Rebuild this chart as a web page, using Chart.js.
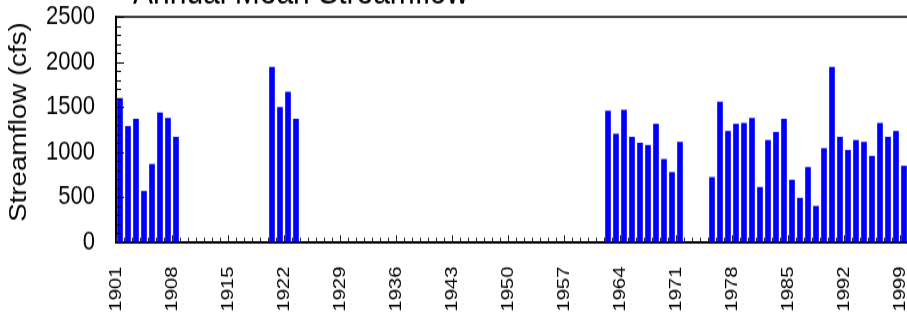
<!DOCTYPE html>
<html>
<head>
<meta charset="utf-8">
<script src="https://cdn.jsdelivr.net/npm/chart.js@4.4.1/dist/chart.umd.min.js"></script>
<style>
html, body { margin: 0; padding: 0; background: #fff; overflow: hidden; }
#frame { width: 907px; height: 313px; overflow: hidden; }
/* the reference is stretched vertically, so draw at 261px high and scale it */
#stretch { width: 920px; height: 261px; transform: scaleY(1.2); transform-origin: 0 0; }
</style>
</head>
<body>
<div id="frame"><div id="stretch"><canvas id="flowChart" width="920" height="261"></canvas></div></div>
<script>
// years on the x axis
const firstYear = 1901;
const lastYear = 1999;
const years = [];
for (let yr = firstYear; yr <= lastYear; yr++) years.push(String(yr));

// annual mean streamflow (cfs), null = no record
const streamflow = [
    1595, 1285, 1365, 565, 865, 1435, 1375, 1165,                 // 1901-1908
    null, null, null, null, null, null, null, null, null, null, null, // 1909-1919
    1940, 1495, 1665, 1365,                                        // 1920-1923
    null, null, null, null, null, null, null, null, null, null,    // 1924-1933
    null, null, null, null, null, null, null, null, null, null,    // 1934-1943
    null, null, null, null, null, null, null, null, null, null,    // 1944-1953
    null, null, null, null, null, null, null, null,                // 1954-1961
    1455, 1200, 1465, 1165, 1100, 1075, 1310, 920, 775, 1110,      // 1962-1971
    null, null, null,                                              // 1972-1974
    720, 1555, 1230, 1310, 1320, 1375, 610, 1130, 1220, 1365,      // 1975-1984
    690, 490, 830, 400, 1040, 1940, 1165, 1020, 1130, 1110,        // 1985-1994
    955, 1320, 1165, 1230, 845                                     // 1995-1999
];

const tickLabels = ['1901', '1908', '1915', '1922', '1929', '1936', '1943',
    '1950', '1957', '1964', '1971', '1978', '1985', '1992', '1999'];
const yTickLabels = [0, 500, 1000, 1500, 2000, 2500];

const chartTitle = 'Annual Mean Streamflow';
const yTitle = 'Streamflow (cfs)';

// inward ticks, top border and the titles
const frameTicks = {
    id: 'frameTicks',
    afterDatasetsDraw(chart) {
        const ctx = chart.ctx;
        const a = chart.chartArea;
        const x = chart.scales.x;
        const y = chart.scales.y;
        ctx.save();
        ctx.strokeStyle = '#000';
        ctx.lineWidth = 1.5;
        ctx.beginPath();
        ctx.moveTo(a.left, a.top);
        ctx.lineTo(a.right, a.top);
        ctx.stroke();

        ctx.lineWidth = 1;
        y.ticks.forEach(t => {
            const py = Math.round(y.getPixelForValue(t.value)) + 0.5;
            const len = yTickLabels.includes(t.value) ? 8 : 5;
            ctx.beginPath();
            ctx.moveTo(a.left, py);
            ctx.lineTo(a.left + len, py);
            ctx.stroke();
        });

        ctx.strokeStyle = '#222';
        const half = (x.getPixelForValue(1) - x.getPixelForValue(0)) / 2;
        years.forEach((yr, i) => {
            const px = Math.round(x.getPixelForValue(i) - half) + 0.5;
            const len = tickLabels.includes(yr) ? 6 : 4;
            ctx.beginPath();
            ctx.moveTo(px, a.bottom);
            ctx.lineTo(px, a.bottom - len);
            ctx.stroke();
        });
        ctx.restore();
    },
    afterDraw(chart) {
        const ctx = chart.ctx;
        ctx.save();
        ctx.fillStyle = '#000';
        ctx.font = '30px "Liberation Sans", Arial, sans-serif';
        ctx.textAlign = 'left';
        ctx.textBaseline = 'alphabetic';
        ctx.fillText(chartTitle, 133, 3.3);

        ctx.font = '23px "Liberation Sans", Arial, sans-serif';
        ctx.translate(20, 101.7);
        ctx.rotate(-Math.PI / 2);
        ctx.textAlign = 'center';
        ctx.textBaseline = 'middle';
        ctx.fillText(yTitle, 0, 0);
        ctx.restore();
    }
};

let flowChart = new Chart(document.getElementById('flowChart'), {
    type: 'bar',
    data: {
        labels: years,
        datasets: [{
            label: 'Streamflow',
            data: streamflow,
            backgroundColor: '#0000ff',
            borderWidth: 0,
            barThickness: 5
        }]
    },
    options: {
        responsive: false,
        animation: false,
        devicePixelRatio: 1,
        layout: { padding: { top: 14, right: 12, left: 0, bottom: 0 } },
        plugins: {
            legend: { display: false },
            tooltip: { enabled: false },
            title: { display: false }
        },
        scales: {
            x: {
                grid: { drawOnChartArea: false, drawTicks: false },
                border: { color: '#000', width: 2 },
                ticks: {
                    autoSkip: false,
                    minRotation: 90,
                    maxRotation: 90,
                    padding: 20,
                    labelOffset: -4,
                    color: '#000',
                    font: { family: '"Liberation Sans", Arial, sans-serif', size: 17 },
                    callback: (v, i) => tickLabels.includes(years[i]) ? years[i] : ''
                },
                afterFit: s => { s.height = 59; s.paddingLeft = 0; s.paddingRight = 0; }
            },
            y: {
                min: 0,
                max: 2500,
                grid: { drawOnChartArea: false, drawTicks: false },
                border: { color: '#000', width: 2 },
                ticks: {
                    stepSize: 100,
                    autoSkip: false,
                    padding: 21,
                    color: '#000',
                    font: { family: '"Liberation Sans", Arial, sans-serif', size: 22 },
                    callback: v => yTickLabels.includes(v) ? String(v) : ''
                },
                afterFit: s => { s.width = 116; s.paddingTop = 0; s.paddingBottom = 0; }
            }
        }
    },
    plugins: [frameTicks]
});
</script>
</body>
</html>
